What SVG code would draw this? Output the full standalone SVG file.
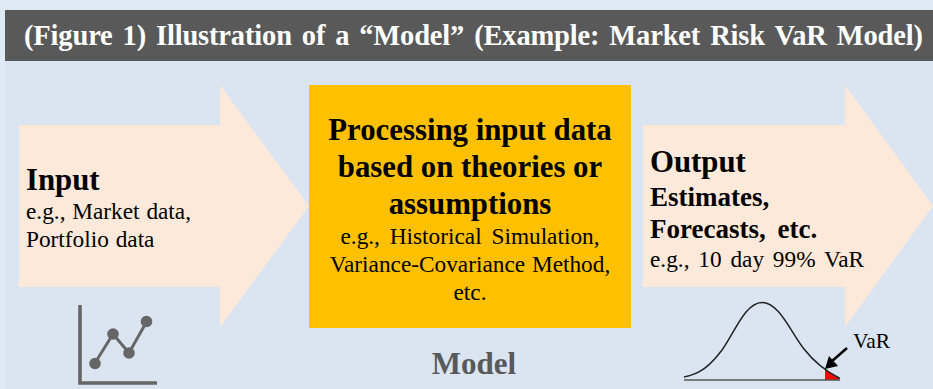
<svg xmlns="http://www.w3.org/2000/svg" width="933" height="389" viewBox="0 0 933 389">
<style>
text{font-family:"Liberation Serif","Times New Roman",serif;fill:#000}
.b{font-weight:bold}
.big{font-size:30.800px;font-weight:bold}
.med{font-size:27px;font-weight:bold}
.sm{font-size:23.300px;word-spacing:1px}
.c{text-anchor:middle}
.arrow{fill:#fde9d9}
</style>
<rect width="933" height="389" fill="#deeaf6"/>
<rect x="5" y="9" width="928" height="380" fill="#dbe5f1"/>
<g id="title">
<rect x="5" y="10" width="928" height="51" fill="#595959"/>
<text x="24" y="45" class="b" style="fill:#fff" font-size="28.500" word-spacing="3" textLength="899">(Figure 1) Illustration of a “Model” (Example: Market Risk VaR Model)</text>
</g>
<g id="input">
<polygon class="arrow" points="19,125 220,125 220,85 309,206 220,327 220,287 19,287"/>
<text x="26" y="190" class="big">Input</text>
<text x="26" y="219" class="sm">e.g., Market data,</text>
<text x="26" y="247" class="sm">Portfolio data</text>
</g>
<g id="processing">
<rect x="309" y="85" width="322" height="243" fill="#ffc000"/>
<text x="470" y="140" class="big c">Processing input data</text>
<text x="470" y="177" class="big c">based on theories or</text>
<text x="470" y="214" class="big c">assumptions</text>
<text x="470" y="244" class="sm c" style="word-spacing:4px">e.g., Historical Simulation,</text>
<text x="470" y="272" class="sm c">Variance-Covariance Method,</text>
<text x="470" y="300" class="sm c">etc.</text>
</g>
<g id="output">
<polygon class="arrow" points="643,125 845,125 845,85 933,206 845,327 845,287 643,287"/>
<text x="650" y="172" class="big">Output</text>
<text x="650" y="206" class="med" word-spacing="5">Estimates,</text>
<text x="650" y="238" class="med" word-spacing="5">Forecasts, etc.</text>
<text x="650" y="267" class="sm" style="word-spacing:3px">e.g., 10 day 99% VaR</text>
</g>
<g id="model-label">
<text x="474" y="374" class="c b" font-size="31" style="fill:#595959">Model</text>
</g>
<g id="chart-icon" fill="#666" stroke="none">
<path d="M80 305V383H157" fill="none" stroke="#666" stroke-width="3.600"/>
<path d="M95 363L113 334L129 353L147 321" fill="none" stroke="#666" stroke-width="3"/>
<circle cx="95" cy="363.500" r="5.800"/>
<circle cx="113" cy="334" r="5.800"/>
<circle cx="129" cy="353" r="5.800"/>
<circle cx="146.500" cy="321.500" r="5.800"/>
</g>
<g id="var-curve">
<path d="M825 369.500C830 373 834 376 839 378.500L839 380H825Z" fill="#f00"/>
<path d="M684 377C700 374 710 366 722 350C734 334 745 302.500 762 302.500C779 302.500 790 331 804 349C815 363 825 371 840 378.500" fill="none" stroke="#222" stroke-width="1.500"/>
<path d="M684 380H840" stroke="#555" stroke-width="1.600" fill="none"/>
<path d="M847 348L831 362" stroke="#000" stroke-width="2.500" fill="none"/>
<polygon points="825,369 829,356 838,366" fill="#000"/>
<text x="853" y="348" font-size="21.500">VaR</text>
</g>
</svg>
